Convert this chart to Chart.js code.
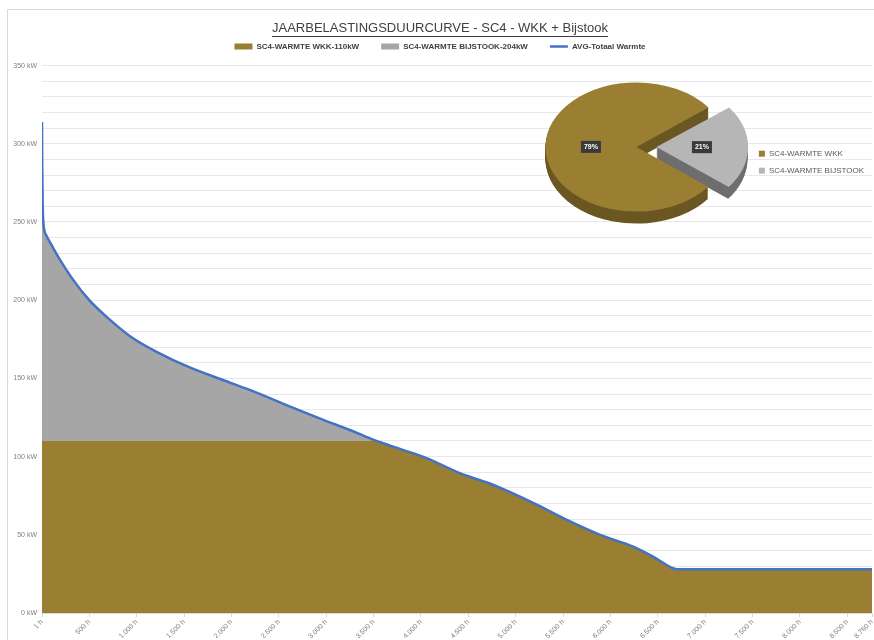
<!DOCTYPE html>
<html>
<head>
<meta charset="utf-8">
<script src="https://cdn.jsdelivr.net/npm/chart.js@4/dist/chart.umd.min.js"></script>
<style>
  body { margin: 0; background: #fff; overflow: hidden; }
  #frame { position: absolute; left: 7px; top: 9px; width: 900px; height: 700px; border: 1px solid #d9d9d9; }
  #main { position: absolute; left: 0; top: 0; }
  #pie { position: absolute; left: 503px; top: 57px; }
</style>
</head>
<body>
<div id="frame"></div>
<canvas id="main" width="874" height="640"></canvas>
<canvas id="pie" width="371" height="180"></canvas>
<script>
// load duration curve (hours sorted by demand)
const hours    = [1, 3, 8, 15, 50, 100, 190, 330, 500, 680, 930, 1210, 1560, 1910, 2200, 2620, 2970, 3250, 3430, 3530, 3800, 4060, 4410, 4760, 5190, 5540, 5890, 6240, 6450, 6660, 6700, 8760];
const totaal   = [314, 288, 262, 250, 241, 235.5, 226, 213, 200, 189.5, 177, 167, 157, 149, 142.5, 132, 123.5, 117, 112.5, 110, 104.5, 99, 89.4, 82, 70.2, 59.5, 50, 42.4, 36, 28.6, 28, 28];
const wkk      = [110, 110, 110, 110, 110, 110, 110, 110, 110, 110, 110, 110, 110, 110, 110, 110, 110, 110, 110, 110, 104.5, 99, 89.4, 82, 70.2, 59.5, 50, 42.4, 36, 28.6, 28, 28];
const bijstook = [204, 178, 152, 140, 131, 125.5, 116, 103, 90, 79.5, 67, 57, 47, 39, 32.5, 22, 13.5, 7, 2.5, 0, 0, 0, 0, 0, 0, 0, 0, 0, 0, 0, 0, 0];
const xTicks   = [1, 500, 1000, 1500, 2000, 2500, 3000, 3500, 4000, 4500, 5000, 5500, 6000, 6500, 7000, 7500, 8000, 8500, 8760];

// share of heat per source
const pieLabels = ['SC4-WARMTE WKK', 'SC4-WARMTE BIJSTOOK'];
const pieValues = [79, 21];

const OLIVE = '#9a7e32';
const GREY = '#a6a6a6';
const BLUE = '#4472c4';
const FONT = "'Liberation Sans', Arial, sans-serif";

function pts(values) {
    return hours.map(function (h, i) { return { x: h, y: values[i] }; });
}

const TITLE_SIZE = 13;
const TITLE_PAD_TOP = 21;

const underlineTitle = {
    id: 'underlineTitle',
    afterDraw(chart) {
        const t = chart.titleBlock;
        if (!t) return;
        const ctx = chart.ctx;
        ctx.save();
        ctx.font = TITLE_SIZE + 'px ' + FONT;
        const w = ctx.measureText(t.options.text).width;
        const cx = (t.left + t.right) / 2;
        const y = Math.round(t.top + TITLE_PAD_TOP + TITLE_SIZE * 0.6 + TITLE_SIZE * 0.5 + 1);
        ctx.strokeStyle = '#404040';
        ctx.lineWidth = 1;
        ctx.beginPath();
        ctx.moveTo(cx - w / 2, y + 0.5);
        ctx.lineTo(cx + w / 2, y + 0.5);
        ctx.stroke();
        ctx.restore();
    }
};

// a little extra room between the legend row and the plot
const legendGap = {
    id: 'legendGap',
    beforeLayout(chart) {
        const lg = chart.legend;
        if (lg && !lg._gapWrapped) {
            const fit = lg.fit;
            lg.fit = function () {
                fit.call(this);
                this.height += 5;
            };
            lg._gapWrapped = true;
        }
    }
};

new Chart(document.getElementById('main'), {
    type: 'line',
    data: {
        datasets: [{
            label: 'SC4-WARMTE WKK-110kW',
            data: pts(wkk),
            backgroundColor: OLIVE,
            borderWidth: 0,
            fill: 'origin',
            stack: 'bron',
            pointStyle: 'rect',
            order: 2
        }, {
            label: 'SC4-WARMTE BIJSTOOK-204kW',
            data: pts(bijstook),
            backgroundColor: GREY,
            borderWidth: 0,
            fill: '-1',
            stack: 'bron',
            pointStyle: 'rect',
            order: 3
        }, {
            label: 'AVG-Totaal Warmte',
            data: pts(totaal),
            borderColor: BLUE,
            backgroundColor: BLUE,
            borderWidth: 2.5,
            fill: false,
            stack: 'totaal',
            pointStyle: 'line',
            order: 1
        }]
    },
    options: {
        responsive: false,
        animation: false,
        elements: {
            point: { radius: 0 },
            line: { cubicInterpolationMode: 'monotone' }
        },
        layout: { padding: { left: 8, right: 2, top: 0, bottom: 2 } },
        plugins: {
            title: {
                display: true,
                text: 'JAARBELASTINGSDUURCURVE - SC4 - WKK + Bijstook',
                color: '#404040',
                font: { family: FONT, size: TITLE_SIZE, weight: 'normal' },
                padding: { top: TITLE_PAD_TOP, bottom: -16 }
            },
            legend: {
                labels: {
                    usePointStyle: true,
                    pointStyleWidth: 18,
                    boxHeight: 6,
                    padding: 22,
                    color: '#404040',
                    font: { family: FONT, size: 8, weight: 'bold' },
                    sort: function (a, b) { return a.datasetIndex - b.datasetIndex; }
                }
            },
            tooltip: { enabled: false }
        },
        scales: {
            x: {
                type: 'linear',
                min: 1,
                max: 8760,
                afterBuildTicks: function (scale) {
                    scale.ticks = xTicks.map(function (v) { return { value: v }; });
                },
                afterFit: function (scale) {
                    scale.height = 25;
                    scale.paddingRight = 0;
                },
                grid: { drawOnChartArea: false, drawTicks: true, tickLength: 4, color: '#d9d9d9' },
                border: { color: '#d9d9d9' },
                ticks: {
                    autoSkip: false,
                    maxRotation: 45,
                    minRotation: 45,
                    padding: 1,
                    color: '#7f7f7f',
                    font: { family: FONT, size: 7 },
                    callback: function (v) { return v.toLocaleString('de-DE') + ' h'; }
                }
            },
            y: {
                stacked: true,
                min: 0,
                max: 350,
                afterFit: function (scale) { scale.width = 34; },
                grid: { color: '#e8e8e8', drawTicks: false },
                border: { display: false },
                ticks: {
                    stepSize: 10,
                    autoSkip: false,
                    padding: 5,
                    color: '#7f7f7f',
                    font: { family: FONT, size: 7 },
                    callback: function (v) { return v % 50 === 0 ? v + ' kW' : ''; }
                }
            }
        }
    },
    plugins: [underlineTitle, legendGap]
});

// 3D look for the pie: squash vertically and extrude a side wall
const TILT = 0.71;
const DEPTH = 12;
const pieTop = [OLIVE, '#b6b6b6'];
const pieSide = ['#6b5722', '#6e6e6e'];

const pie3d = {
    id: 'pie3d',
    beforeDatasetsDraw(chart) {
        const ctx = chart.ctx;
        const arcs = chart.getDatasetMeta(0).data;
        const cx = arcs[0].x, cy = arcs[0].y;
        ctx.save();
        ctx.translate(cx, cy);
        ctx.scale(1, TILT);
        ctx.translate(-cx, -cy);
        for (let d = DEPTH; d > 0; d--) {
            arcs.forEach(function (arc, i) {
                const shift = (arc.options.offset || 0) / 4;
                const mid = (arc.startAngle + arc.endAngle) / 2;
                const ox = cx + Math.cos(mid) * shift;
                const oy = cy + Math.sin(mid) * shift + d / TILT;
                ctx.beginPath();
                ctx.moveTo(ox, oy);
                ctx.arc(ox, oy, arc.outerRadius, arc.startAngle, arc.endAngle);
                ctx.closePath();
                ctx.fillStyle = pieSide[i];
                ctx.fill();
            });
        }
    },
    afterDatasetsDraw(chart) {
        const ctx = chart.ctx;
        ctx.restore();
        const arcs = chart.getDatasetMeta(0).data;
        const cx = arcs[0].x, cy = arcs[0].y;
        const total = pieValues.reduce(function (a, b) { return a + b; }, 0);
        ctx.save();
        ctx.font = 'bold 7px ' + FONT;
        ctx.textAlign = 'center';
        ctx.textBaseline = 'middle';
        arcs.forEach(function (arc, i) {
            const shift = (arc.options.offset || 0) / 4;
            const mid = (arc.startAngle + arc.endAngle) / 2;
            const r = arc.outerRadius / 2 + shift;
            const x = cx + Math.cos(mid) * r;
            const y = cy + Math.sin(mid) * r * TILT;
            const txt = Math.round(pieValues[i] / total * 100) + '%';
            const w = ctx.measureText(txt).width + 6;
            ctx.fillStyle = '#3a3a3a';
            ctx.fillRect(x - w / 2, y - 6, w, 12);
            ctx.fillStyle = '#ffffff';
            ctx.fillText(txt, x, y);
        });
        ctx.restore();
    }
};

new Chart(document.getElementById('pie'), {
    type: 'pie',
    data: {
        labels: pieLabels,
        datasets: [{
            data: pieValues,
            backgroundColor: pieTop,
            borderWidth: 0,
            offset: [0, 80],
            clip: false
        }]
    },
    options: {
        responsive: false,
        animation: false,
        rotation: 128,
        radius: 91,
        layout: { padding: { left: 20, right: 0, top: 0, bottom: 0 } },
        plugins: {
            legend: {
                position: 'right',
                labels: {
                    boxWidth: 6,
                    boxHeight: 6,
                    padding: 9,
                    color: '#595959',
                    font: { family: FONT, size: 8 }
                },
                title: { display: true, text: '', padding: 8 }
            },
            tooltip: { enabled: false }
        }
    },
    plugins: [pie3d]
});
</script>
</body>
</html>
